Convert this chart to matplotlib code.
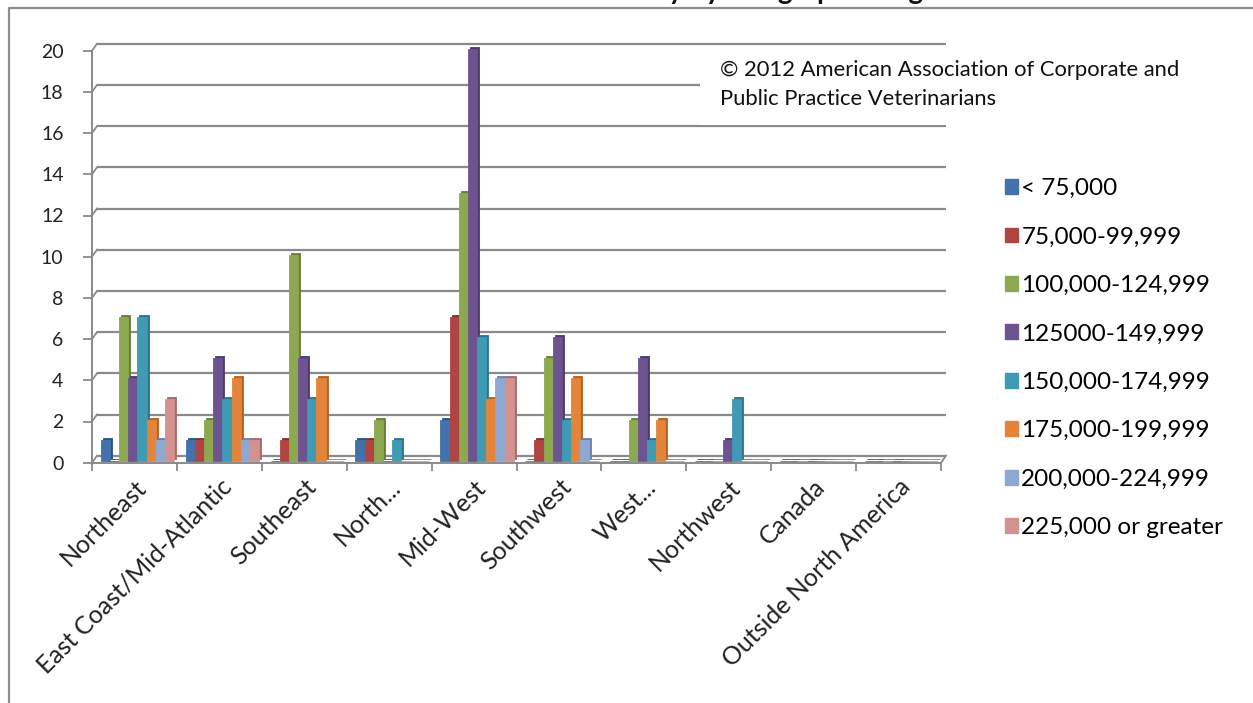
import matplotlib
matplotlib.use("Agg")
import matplotlib.pyplot as plt
from matplotlib.patches import Patch, Rectangle
from matplotlib.lines import Line2D
from matplotlib.transforms import ScaledTranslation
import numpy as np

# Categories (regions) and salary bands
regions = ["Northeast", "East Coast/Mid-Atlantic", "Southeast", "North...", "Mid-West",
           "Southwest", "West...", "Northwest", "Canada", "Outside North America"]
salary_bands = ["< 75,000", "75,000-99,999", "100,000-124,999", "125000-149,999",
                "150,000-174,999", "175,000-199,999", "200,000-224,999", "225,000 or greater"]

# Nombre de réponses par région, pour chaque tranche de salaire
under_75 = [1, 1, 0, 1, 2, 0, 0, 0, 0, 0]
band_75_99 = [0, 1, 1, 1, 7, 1, 0, 0, 0, 0]
band_100_124 = [7, 2, 10, 2, 13, 5, 2, 0, 0, 0]
band_125_149 = [4, 5, 5, 0, 20, 6, 5, 1, 0, 0]
band_150_174 = [7, 3, 3, 1, 6, 2, 1, 3, 0, 0]
band_175_199 = [2, 4, 4, 0, 3, 4, 2, 0, 0, 0]
band_200_224 = [1, 1, 0, 0, 4, 1, 0, 0, 0, 0]
over_225 = [3, 1, 0, 0, 4, 0, 0, 0, 0, 0]
series = [under_75, band_75_99, band_100_124, band_125_149,
          band_150_174, band_175_199, band_200_224, over_225]

y_ticks = list(range(0, 21, 2))

colors = ["#4271ab", "#b04442", "#8ca94f", "#6d5491", "#3e9bb3", "#e4843a", "#8fa8d2", "#d39190"]
dark = ["#2c5286", "#862f2d", "#677f36", "#4e3a6d", "#2a768a", "#b5621f", "#6b84ad", "#a96a69"]

plt.rcParams['font.family'] = ['Lato', 'DejaVu Sans']
grid_col = "#8a8a8a"

W, H = 1253, 703
fig = plt.figure(figsize=(W / 100, H / 100), dpi=100)
fig.patch.set_facecolor("white")

left, right = 92, 941
y0_px, y20_px = 462.7, 50.7
ax = fig.add_axes([left / W, 1 - y0_px / H, (right - left) / W, (y0_px - y20_px) / H])
ax.set_xlim(-0.5, len(regions) - 0.5)
ax.set_ylim(0, 20)
ax.patch.set_alpha(0)

# decalages pour l'effet 3D (pixels -> pouces a 100 dpi)
wall = ScaledTranslation(5 / 100, 7 / 100, fig.dpi_scale_trans)
front = ScaledTranslation(3 / 100, 2 / 100, fig.dpi_scale_trans)
side = ScaledTranslation(5 / 100, 4 / 100, fig.dpi_scale_trans)

x = np.arange(len(regions))
w = 0.108
n = len(series)
for i, vals in enumerate(series):
    xpos = x - n * w / 2 + (i + 0.5) * w
    ax.bar(xpos, vals, w, color=dark[i], edgecolor=dark[i], lw=0.6,
           transform=ax.transData + side, zorder=2, clip_on=False)
    ax.bar(xpos, vals, w, color=colors[i], edgecolor=colors[i], lw=0.6,
           transform=ax.transData + front, zorder=3, clip_on=False)

# grille du mur du fond, avec la petite diagonale a gauche
for v in y_ticks:
    ax.plot([-0.5, len(regions) - 0.5], [v, v], color=grid_col, lw=1.6,
            transform=ax.transData + wall, zorder=1, clip_on=False, solid_capstyle='butt')
fig.canvas.draw()
for v in y_ticks:
    p0 = ax.transData.transform((-0.5, v))
    fig.add_artist(Line2D([p0[0] / W, (p0[0] + 5) / W], [p0[1] / H, (p0[1] + 7) / H],
                          color=grid_col, lw=1.3, zorder=0.5))
# bord droit du sol
p1 = ax.transData.transform((len(regions) - 0.5, 0))
fig.add_artist(Line2D([p1[0] / W, (p1[0] + 5) / W], [p1[1] / H, (p1[1] + 7) / H],
                      color=grid_col, lw=1.3, zorder=0.5))

for s in ["top", "right"]:
    ax.spines[s].set_visible(False)
for s in ["left", "bottom"]:
    ax.spines[s].set_color(grid_col)
    ax.spines[s].set_linewidth(1.4)

ax.set_yticks(y_ticks)
ax.set_yticklabels([str(v) for v in y_ticks], fontsize=14, color="#222222")
ax.tick_params(axis='y', length=6.5, width=1.3, color=grid_col, pad=14)

ax.set_xticks(x)
ax.set_xticklabels(regions, rotation=45, ha='right', va='top', rotation_mode='anchor',
                   fontsize=18, color="#222222")
ax.set_xticks(np.arange(-0.5, len(regions)), minor=True)
ax.tick_params(axis='x', which='major', length=0, pad=9)
ax.tick_params(axis='x', which='minor', length=6, width=1.3, color=grid_col)

# legende
handles = [Patch(facecolor=c, edgecolor=c) for c in colors]
fig.legend(handles, salary_bands, loc='upper left', bbox_to_anchor=(1005 / W, 1 - 178 / H),
           frameon=False, fontsize=17.5, handlelength=0.55, handleheight=0.55,
           handletextpad=0.12, labelspacing=1.13, borderaxespad=0, borderpad=0)

# encadre du copyright
fig.add_artist(Rectangle((700 / W, 1 - 125 / H), 500 / W, 79 / H, transform=fig.transFigure,
                         facecolor="white", edgecolor="none", zorder=2))
fig.text(720 / W, 1 - 60 / H, "© 2012 American Association of Corporate and\nPublic Practice Veterinarians",
         fontsize=15.8, va='top', ha='left', linespacing=1.55, color="#111111", zorder=3)

# titre, presque entierement coupe par le haut de l'image
fig.text(962 / W, 1 + 1.5 / H, "Salary by Geographic Region", fontsize=20, fontweight='bold',
         ha='right', va='baseline', color="#111111")

# bordure exterieure du graphique
fig.add_artist(Line2D([9 / W, 9 / W, 1], [0, 1 - 8 / H, 1 - 8 / H], color="#8c8c8c", lw=1.6))

fig.savefig("out.png", dpi=100)
